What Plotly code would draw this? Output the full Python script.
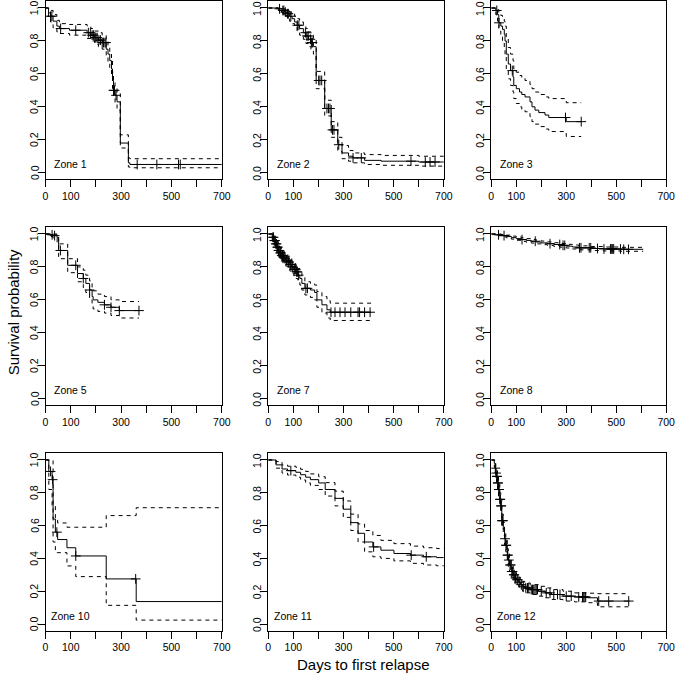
import plotly.graph_objects as go
import bisect

# ---------------- data ----------------
zone_names = ["Zone 1", "Zone 2", "Zone 3", "Zone 5", "Zone 7", "Zone 8", "Zone 10", "Zone 11", "Zone 12"]

z1_t = [0, 12, 20, 30, 45, 55, 95, 165, 180, 195, 210, 225, 241, 248, 255, 262, 266, 270, 276, 284, 297, 329, 335]
z1_s = [1.0, 0.97, 0.95, 0.92, 0.89, 0.875, 0.865, 0.85, 0.835, 0.82, 0.805, 0.79, 0.75, 0.72, 0.68, 0.63, 0.56, 0.50, 0.47, 0.43, 0.18, 0.06, 0.05]
z1_u = [1.0, 0.995, 0.985, 0.96, 0.925, 0.905, 0.90, 0.89, 0.875, 0.86, 0.85, 0.835, 0.80, 0.77, 0.73, 0.68, 0.61, 0.55, 0.52, 0.48, 0.23, 0.09, 0.085]
z1_l = [1.0, 0.94, 0.915, 0.88, 0.855, 0.845, 0.835, 0.815, 0.80, 0.78, 0.765, 0.75, 0.705, 0.675, 0.63, 0.58, 0.51, 0.45, 0.42, 0.38, 0.15, 0.035, 0.03]
z1_c = [20, 25, 60, 120, 170, 178, 185, 190, 196, 200, 205, 212, 218, 225, 230, 236, 240, 270, 274, 280, 364, 442, 528, 535]
z1_end = 700

z2_t = [0, 40, 55, 65, 75, 85, 95, 105, 115, 125, 140, 150, 160, 170, 180, 191, 225, 251, 277, 294, 320, 338, 384, 450, 600]
z2_s = [1.0, 0.995, 0.985, 0.975, 0.965, 0.95, 0.935, 0.915, 0.895, 0.875, 0.85, 0.83, 0.81, 0.79, 0.765, 0.56, 0.39, 0.26, 0.17, 0.12, 0.10, 0.09, 0.075, 0.07, 0.065]
z2_u = [1.0, 1.0, 0.995, 0.99, 0.985, 0.975, 0.965, 0.95, 0.935, 0.915, 0.89, 0.875, 0.855, 0.835, 0.815, 0.615, 0.44, 0.31, 0.215, 0.165, 0.135, 0.12, 0.11, 0.105, 0.10]
z2_l = [1.0, 0.98, 0.97, 0.955, 0.94, 0.92, 0.905, 0.88, 0.86, 0.835, 0.81, 0.785, 0.765, 0.745, 0.72, 0.51, 0.345, 0.215, 0.13, 0.085, 0.07, 0.06, 0.05, 0.045, 0.04]
z2_c = [45, 58, 62, 68, 77, 80, 90, 116, 122, 148, 154, 159, 168, 172, 176, 201, 206, 213, 234, 240, 246, 256, 262, 281, 338, 371, 569, 626, 645, 665]
z2_end = 700

z3_t = [0, 18, 25, 30, 38, 45, 52, 55, 60, 68, 77, 87, 90, 100, 113, 122, 135, 155, 163, 175, 190, 215, 230, 300]
z3_s = [1.0, 0.985, 0.96, 0.91, 0.89, 0.87, 0.84, 0.80, 0.72, 0.66, 0.62, 0.58, 0.53, 0.51, 0.49, 0.475, 0.46, 0.43, 0.40, 0.38, 0.365, 0.35, 0.335, 0.31]
z3_u = [1.0, 1.0, 0.99, 0.97, 0.955, 0.94, 0.92, 0.89, 0.82, 0.76, 0.72, 0.68, 0.63, 0.61, 0.59, 0.575, 0.56, 0.535, 0.51, 0.49, 0.475, 0.46, 0.45, 0.425]
z3_l = [1.0, 0.96, 0.92, 0.86, 0.83, 0.80, 0.76, 0.71, 0.63, 0.57, 0.53, 0.49, 0.45, 0.42, 0.40, 0.385, 0.37, 0.34, 0.31, 0.295, 0.28, 0.265, 0.25, 0.22]
z3_c = [22, 31, 84, 297, 360]
z3_end = 360

z5_t = [0, 20, 30, 46, 52, 88, 127, 150, 160, 175, 185, 189, 208, 234, 260, 293]
z5_s = [1.0, 0.995, 0.99, 0.975, 0.90, 0.81, 0.76, 0.73, 0.70, 0.66, 0.62, 0.60, 0.585, 0.57, 0.555, 0.535]
z5_u = [1.0, 1.0, 1.0, 0.995, 0.94, 0.85, 0.80, 0.78, 0.75, 0.715, 0.675, 0.655, 0.635, 0.62, 0.60, 0.59]
z5_l = [1.0, 0.985, 0.975, 0.95, 0.85, 0.765, 0.71, 0.675, 0.645, 0.60, 0.565, 0.545, 0.53, 0.52, 0.505, 0.49]
z5_c = [26, 36, 59, 120, 150, 175, 234, 260, 293, 371]
z5_end = 371

z7_t = [0, 16, 22, 28, 34, 40, 46, 52, 58, 64, 70, 78, 86, 94, 102, 110, 118, 126, 134, 146, 168, 185, 194, 214, 234, 247]
z7_s = [1.0, 0.98, 0.96, 0.94, 0.92, 0.90, 0.885, 0.87, 0.86, 0.85, 0.84, 0.83, 0.815, 0.80, 0.785, 0.77, 0.75, 0.73, 0.70, 0.67, 0.66, 0.645, 0.60, 0.57, 0.54, 0.525]
z7_u = [1.0, 1.0, 0.985, 0.97, 0.955, 0.935, 0.92, 0.905, 0.895, 0.885, 0.875, 0.865, 0.85, 0.835, 0.82, 0.81, 0.79, 0.77, 0.74, 0.71, 0.70, 0.69, 0.65, 0.62, 0.595, 0.58]
z7_l = [1.0, 0.96, 0.935, 0.91, 0.885, 0.865, 0.85, 0.835, 0.825, 0.815, 0.805, 0.79, 0.775, 0.76, 0.745, 0.73, 0.71, 0.69, 0.66, 0.63, 0.615, 0.60, 0.555, 0.52, 0.49, 0.475]
z7_c = [18, 21, 24, 27, 30, 33, 36, 38, 41, 44, 48, 50, 54, 57, 60, 63, 67, 72, 75, 80, 83, 88, 91, 95, 98, 104, 108, 113, 116, 121, 150, 156,
        250, 266, 286, 306, 329, 358, 364, 384, 406]
z7_end = 410

z8_t = [0, 18, 40, 60, 80, 100, 120, 140, 160, 180, 200, 225, 250, 275, 300, 325, 350, 400, 450, 520]
z8_s = [1.0, 0.995, 0.99, 0.985, 0.978, 0.972, 0.966, 0.961, 0.956, 0.951, 0.946, 0.941, 0.936, 0.931, 0.926, 0.921, 0.916, 0.912, 0.909, 0.907]
z8_u = [1.0, 1.0, 0.997, 0.993, 0.987, 0.982, 0.977, 0.972, 0.967, 0.962, 0.957, 0.952, 0.947, 0.942, 0.937, 0.933, 0.928, 0.924, 0.921, 0.919]
z8_l = [1.0, 0.99, 0.983, 0.977, 0.969, 0.962, 0.955, 0.950, 0.945, 0.940, 0.935, 0.930, 0.925, 0.920, 0.915, 0.909, 0.904, 0.900, 0.897, 0.895]
z8_c = [29, 51, 123, 176, 235, 274, 287, 294, 353, 359, 392, 398, 425, 451, 477, 482, 486, 490, 517, 530, 549]
z8_end = 608

z10_t = [0, 13, 26, 30, 39, 48, 85, 120, 241, 360]
z10_s = [1.0, 0.93, 0.88, 0.64, 0.56, 0.515, 0.465, 0.415, 0.275, 0.137]
z10_u = [1.0, 1.0, 1.0, 0.72, 0.64, 0.616, 0.59, 0.59, 0.661, 0.709]
z10_l = [1.0, 0.82, 0.72, 0.50, 0.435, 0.435, 0.354, 0.289, 0.114, 0.024]
z10_c = [20, 28, 45, 120, 358]
z10_end = 700

z11_t = [0, 31, 55, 77, 110, 129, 149, 168, 201, 227, 266, 299, 329, 358, 384, 417, 449, 501, 567, 619, 671]
z11_s = [1.0, 0.97, 0.945, 0.935, 0.925, 0.91, 0.895, 0.88, 0.86, 0.82, 0.766, 0.70, 0.618, 0.553, 0.50, 0.47, 0.45, 0.43, 0.42, 0.41, 0.405]
z11_u = [1.0, 0.99, 0.97, 0.962, 0.955, 0.943, 0.93, 0.915, 0.898, 0.862, 0.81, 0.75, 0.67, 0.61, 0.57, 0.54, 0.51, 0.49, 0.475, 0.465, 0.46]
z11_l = [1.0, 0.95, 0.92, 0.908, 0.895, 0.878, 0.86, 0.845, 0.82, 0.78, 0.72, 0.65, 0.57, 0.50, 0.44, 0.41, 0.40, 0.385, 0.37, 0.36, 0.355]
z11_c = [90, 420, 570, 630]
z11_end = 700

z12_t = [0, 12, 15, 18, 21, 25, 29, 34, 38, 42, 48, 53, 58, 64, 68, 73, 80, 88, 95, 101, 110, 117, 125, 134, 156, 189, 215, 241, 287, 333, 385, 425]
z12_s = [1.0, 0.98, 0.95, 0.92, 0.90, 0.86, 0.82, 0.76, 0.72, 0.63, 0.58, 0.52, 0.48, 0.42, 0.39, 0.36, 0.32, 0.30, 0.28, 0.27, 0.255, 0.24, 0.23, 0.22, 0.21, 0.20, 0.19, 0.18, 0.17, 0.165, 0.16, 0.14]
z12_u = [1.0, 1.0, 0.98, 0.95, 0.935, 0.90, 0.86, 0.80, 0.76, 0.67, 0.62, 0.56, 0.52, 0.46, 0.43, 0.40, 0.36, 0.335, 0.315, 0.30, 0.285, 0.27, 0.26, 0.25, 0.24, 0.23, 0.22, 0.21, 0.20, 0.19, 0.188, 0.185]
z12_l = [1.0, 0.96, 0.92, 0.89, 0.865, 0.82, 0.78, 0.72, 0.68, 0.59, 0.54, 0.48, 0.44, 0.38, 0.35, 0.32, 0.285, 0.265, 0.245, 0.24, 0.225, 0.21, 0.20, 0.19, 0.18, 0.17, 0.16, 0.15, 0.14, 0.135, 0.13, 0.105]
z12_c = [16, 19, 22, 23, 26, 27, 30, 31, 35, 36, 39, 40, 43, 44, 47, 55, 59, 60, 65, 66, 70, 75, 78, 82, 85, 90, 92, 97, 103, 106, 112,
         120, 128, 138, 145, 150, 160, 165, 170, 175, 180, 185, 200, 220, 235, 250, 265, 275, 300, 320, 350, 365, 370, 375, 378, 430, 470, 550]
z12_end = 553

x_ticks = [0, 100, 200, 300, 400, 500, 600, 700]
x_tick_text = ["0", "100", "", "300", "", "500", "", "700"]
y_ticks = [0.0, 0.2, 0.4, 0.6, 0.8, 1.0]
y_tick_text = ["0.0", "0.2", "0.4", "0.6", "0.8", "1.0"]

zones = [
    (z1_t, z1_s, z1_u, z1_l, z1_c, z1_end),
    (z2_t, z2_s, z2_u, z2_l, z2_c, z2_end),
    (z3_t, z3_s, z3_u, z3_l, z3_c, z3_end),
    (z5_t, z5_s, z5_u, z5_l, z5_c, z5_end),
    (z7_t, z7_s, z7_u, z7_l, z7_c, z7_end),
    (z8_t, z8_s, z8_u, z8_l, z8_c, z8_end),
    (z10_t, z10_s, z10_u, z10_l, z10_c, z10_end),
    (z11_t, z11_s, z11_u, z11_l, z11_c, z11_end),
    (z12_t, z12_s, z12_u, z12_l, z12_c, z12_end),
]

# ---------------- layout geometry (pixels) ----------------
W, H = 685, 675
col_px = [(43.3, 222.7), (270.0, 448.7), (497.0, 675.0)]
row_px = [(1.4, 179.3), (227.4, 405.3), (453.4, 630.6)]

FONT = "Liberation Sans, Arial, Helvetica, sans-serif"
TICK_SIZE = 10.5

fig = go.Figure()


def step_at(times, vals, t):
    i = bisect.bisect_right(times, t) - 1
    return vals[max(i, 0)]


layout = {}
for k, (t, s, u, l, c, end) in enumerate(zones):
    r, cidx = divmod(k, 3)
    n = k + 1
    xa = "x" if n == 1 else f"x{n}"
    ya = "y" if n == 1 else f"y{n}"
    xs = list(t) + [end]
    for vals, dash in ((u, "4px,4px"), (l, "4px,4px"), (s, "solid")):
        ys = list(vals) + [vals[-1]]
        fig.add_trace(go.Scatter(x=xs, y=ys, mode="lines", line=dict(color="black", width=1, dash=dash, shape="hv"),
                                 xaxis=xa, yaxis=ya, showlegend=False, hoverinfo="skip"))
    cy = [step_at(t, s, ct) for ct in c]
    fig.add_trace(go.Scatter(x=c, y=cy, mode="markers",
                             marker=dict(symbol="cross-thin", size=7, color="black", line=dict(color="black", width=1)),
                             xaxis=xa, yaxis=ya, showlegend=False, hoverinfo="skip"))

    x0, x1 = col_px[cidx]
    y0, y1 = row_px[r]
    axis_common = dict(showline=True, linecolor="black", linewidth=1, mirror=True, ticks="outside", ticklen=7,
                       tickcolor="black", tickwidth=1, showgrid=False, zeroline=False,
                       tickfont=dict(family=FONT, size=TICK_SIZE, color="black"))
    layout["xaxis" if n == 1 else f"xaxis{n}"] = dict(
        domain=[x0 / W, x1 / W], range=[0, 700], anchor=ya, tickvals=x_ticks, ticktext=x_tick_text, **axis_common)
    layout["yaxis" if n == 1 else f"yaxis{n}"] = dict(
        domain=[1 - y1 / H, 1 - y0 / H], range=[-0.04, 1.04], anchor=xa, tickvals=y_ticks, showticklabels=False,
        **axis_common)
    # rotated y tick labels (R style, las=0)
    for tv, tt in zip(y_ticks, y_tick_text):
        fig.add_annotation(x=(x0 - 11.5) / W, y=tv, xref="paper", yref=ya, text=tt, textangle=-90, showarrow=False,
                           xanchor="center", yanchor="middle", font=dict(family=FONT, size=TICK_SIZE, color="black"))
    fig.add_annotation(x=100, y=0.05, xref=xa, yref=ya, text=zone_names[k], showarrow=False, xanchor="center",
                       yanchor="middle", font=dict(family=FONT, size=10.5, color="black"))

fig.add_annotation(x=367 / W, y=1 - 664 / H, xref="paper", yref="paper", text="Days to first relapse",
                   showarrow=False, xanchor="center", yanchor="middle", font=dict(family=FONT, size=15, color="black"))
fig.add_annotation(x=10.5 / W, y=1 - 312 / H, xref="paper", yref="paper", text="Survival probability", textangle=-90,
                   showarrow=False, xanchor="center", yanchor="middle", font=dict(family=FONT, size=15, color="black"))

fig.update_layout(width=W, height=H, margin=dict(l=0, r=0, t=0, b=0), plot_bgcolor="white", paper_bgcolor="white",
                  **layout)

fig.write_html("out.html", config={"displayModeBar": False},
               post_script="document.body.style.margin='0px';")
